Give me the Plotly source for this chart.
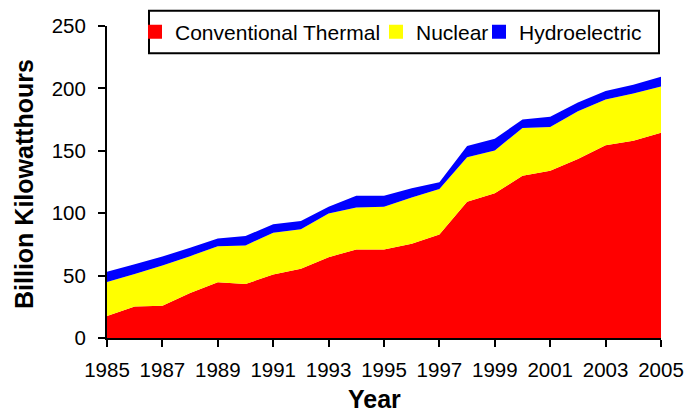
import plotly.graph_objects as go

years = list(range(1985, 2006))
thermal = [17.7, 25.3, 25.8, 36.0, 44.6, 43.3, 50.8, 55.4, 64.8, 71.0, 71.0,
           75.5, 83.0, 109.1, 115.9, 130.1, 134.1, 143.5, 154.5, 158.0, 164.5]
nuclear = [27.2, 26.0, 32.2, 29.6, 29.0, 30.9, 33.6, 31.7, 34.9, 33.6, 34.1,
           37.1, 36.4, 35.8, 34.4, 38.2, 35.0, 38.2, 36.7, 38.0, 37.1]
hydro = [8.1, 7.8, 7.3, 6.7, 6.2, 7.5, 6.7, 6.7, 5.4, 9.4, 8.9,
         7.3, 5.3, 8.9, 9.4, 6.7, 8.1, 7.0, 6.7, 7.0, 7.8]
series_names = ["Conventional Thermal", "Nuclear", "Hydroelectric"]
series_colors = ["#FF0000", "#FFFF00", "#0000FF"]
x_ticks = list(range(1985, 2006, 2))
y_ticks = [0, 50, 100, 150, 200, 250]

FONT = "Arial, Liberation Sans, sans-serif"
W, H = 684, 413
L, R, T, B = 107, 23, 26, 75
pw, ph = W - L - R, H - T - B

def px(x):
    return (x - L) / pw

def py(y):
    return (H - B - y) / ph

fig = go.Figure()
for vals, name, col in zip([thermal, nuclear, hydro], series_names, series_colors):
    fig.add_trace(go.Scatter(x=years, y=vals, name=name, stackgroup="one",
                             mode="none", fillcolor=col, showlegend=False,
                             hoverinfo="x+y"))

legend_names = ["legend", "legend2", "legend3"]
legend_x = [135, 376, 479]
for name, col, lg in zip(series_names, series_colors, legend_names):
    fig.add_trace(go.Scatter(x=[None], y=[None], name=name, mode="markers",
                             marker=dict(symbol="square", size=14, color=col),
                             legend=lg, showlegend=True))

leg_common = dict(orientation="h", bgcolor="rgba(0,0,0,0)", borderwidth=0,
                  font=dict(family=FONT, size=21, color="black"),
                  xanchor="left", yanchor="middle", y=py(32))
layout_legends = {}
for lg, lx in zip(legend_names, legend_x):
    d = dict(leg_common)
    d["x"] = px(lx)
    layout_legends[lg] = d

fig.update_layout(
    width=W, height=H,
    margin=dict(l=L, r=R, t=T, b=B, pad=0, autoexpand=False),
    paper_bgcolor="white", plot_bgcolor="white",
    font=dict(family=FONT, size=21, color="black"),
    **layout_legends,
    xaxis=dict(range=[1985, 2005], tickvals=x_ticks, ticks="outside",
               ticklen=7, tickwidth=2, tickcolor="black", showline=True,
               linecolor="black", linewidth=2, showgrid=False, zeroline=False,
               ticklabelstandoff=5, ticklabeloverflow="allow", automargin=False,
               tickfont=dict(family=FONT, size=20.5, color="black")),
    yaxis=dict(range=[0, 250], tickvals=y_ticks, ticks="outside",
               ticklen=7, tickwidth=2, tickcolor="black", showline=True,
               linecolor="black", linewidth=2, showgrid=False, zeroline=False,
               ticklabelstandoff=8, ticklabeloverflow="allow", automargin=False,
               tickfont=dict(family=FONT, size=20.5, color="black")),
    shapes=[dict(type="rect", xref="paper", yref="paper",
                 x0=px(149), x1=px(659), y0=py(53.3), y1=py(10.7),
                 line=dict(color="black", width=2), fillcolor="white",
                 layer="above")],
    annotations=[
        dict(text="<b>Billion Kilowatthours</b>", textangle=-90,
             xref="paper", yref="paper", x=px(24), y=py(184),
             xanchor="center", yanchor="middle", showarrow=False,
             font=dict(family=FONT, size=25, color="black")),
        dict(text="<b>Year</b>", xref="paper", yref="paper",
             x=px(374), y=py(399), xanchor="center", yanchor="middle",
             showarrow=False, font=dict(family=FONT, size=25, color="black")),
    ],
)

fig.write_html("out.html",
               config={"displayModeBar": False},
               post_script="document.body.style.margin='0px';"
                           "document.body.style.overflow='hidden';")
